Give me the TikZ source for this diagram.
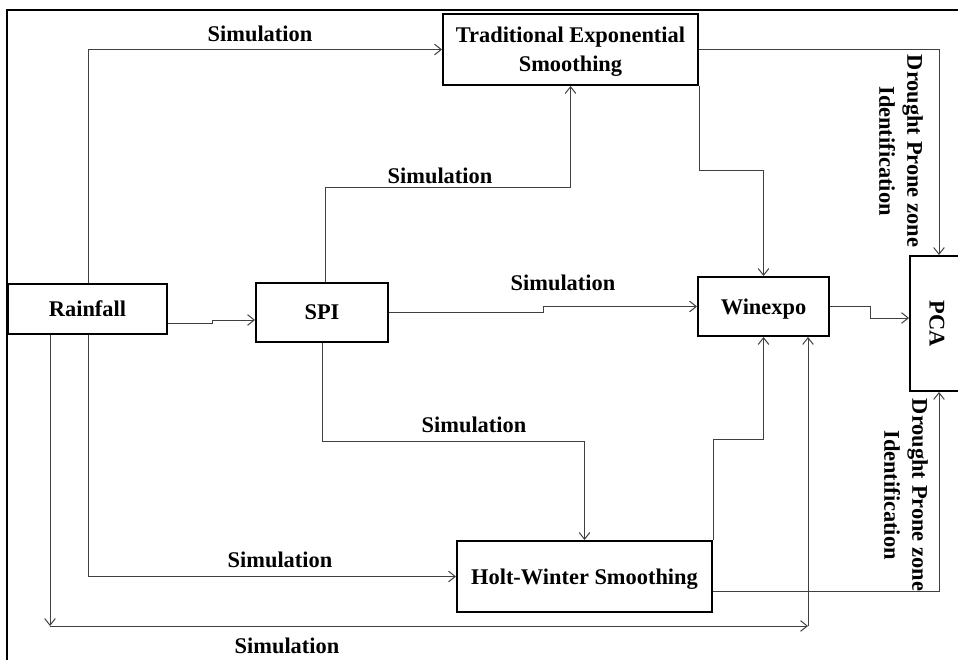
\documentclass[tikz,border=0pt]{standalone}
\usepackage{fontspec}
\setmainfont{Liberation Serif}
\usepackage{tikz}
\usetikzlibrary{
	arrows.meta,
	positioning,
	calc
}

\begin{document}
\begin{tikzpicture}[
				x=0.75pt, y=-0.75pt,
				box/.style={
					rectangle, draw, line width=1.5pt,
					inner sep=0pt, align=center, text depth=0pt,
					font=\fontsize{16.8}{21.5}\selectfont\bfseries
				},
				arrow/.style={-{Straight Barb[length=5pt,width=8pt]}, line width=0.75pt, black!75},
				lbl/.style={font=\fontsize{16.8}{21}\selectfont\bfseries, inner sep=0pt},
				sidelbl/.style={lbl, rotate=-90, align=center},
				]
				\useasboundingbox (0,0) rectangle (958,660);
				\draw[line width=1.5pt] (7,10) rectangle (966,668);
				
				%boxes
				\node (rain) at (87.5,309) [box, minimum width=119.25pt, minimum height=37.5pt] {Rainfall};
				\node (spi) at (322,312.5) [box, minimum width=99pt, minimum height=44.25pt] {SPI};
				\node (tes) at (570.5,49.5) [box, minimum width=191.25pt, minimum height=53.25pt] {Traditional Exponential\\Smoothing};
				\node (win) at (763.5,306.5) [box, minimum width=98.25pt, minimum height=44.25pt] {Winexpo};
				\node (hw) at (584.5,576.5) [box, minimum width=191.25pt, minimum height=53.25pt] {Holt-Winter Smoothing};
				\node (pca) at (937,323.5) [box, minimum width=40.5pt, minimum height=101.25pt] {};
				\node (pcatxt) at (pca.center) [lbl, rotate=-90] {PCA};
				
				%bend points
				\coordinate (c1) at (88,0);
				\coordinate (j1) at (212,323);
				\coordinate (j2) at (212,320);
				\coordinate (k1) at (325,188);
				\coordinate (j3) at (543,312);
				\coordinate (k2) at (0,171);
				\coordinate (k3) at (939,0);
				\coordinate (j4) at (870,318);
				\coordinate (k4) at (0,441);
				\coordinate (k5) at (50,626);
				\coordinate (k6) at (808,626);
				\coordinate (k7) at (0,439);
				\coordinate (k8) at (939,591);
				
				%rainfall
				\draw [arrow] (rain.north -| c1) |- (tes.west);
				\node (s1) at (260,34) [lbl] {Simulation};
				\draw [arrow] (rain.east |- j1) -- (j1) -- (j2) -- (spi.west |- j2);
				\draw [arrow] (rain.south -| c1) |- (hw.west);
				\node (s2) at (280,560) [lbl] {Simulation};
				\draw [arrow] (rain.south -| k5) -- (k5);
				\draw [arrow] (k5) -- (k6);
				\draw [arrow] (k6) -- (win.south -| k6);
				\node (s3) at (287,646) [lbl] {Simulation};
				
				%spi
				\draw [arrow] (spi.north -| k1) |- (k1 -| tes.south) -- (tes.south);
				\node (s4) at (440,176) [lbl] {Simulation};
				\draw [arrow] (spi.east) -- (spi.east -| j3) |- (win.west);
				\node (s5) at (563,283) [lbl] {Simulation};
				\draw [arrow] (spi.south) |- (k4 -| hw.north) -- (hw.north);
				\node (s6) at (474,425) [lbl] {Simulation};
				
				%smoothing to winexpo
				\draw [arrow] (tes.south east) |- (k2 -| win.north) -- (win.north);
				\draw [arrow] (hw.north east) |- (k7 -| win.south) -- (win.south);
				
				%to pca
				\draw [arrow] (tes.east) -| (k3 |- pca.north);
				\node (d1) at (901,151) [sidelbl] {Drought Prone zone\\Identification};
				\draw [arrow] (win.east) -| (j4) -- (pca.west |- j4);
				\draw [arrow] (hw.east |- k8) -| (k3 |- pca.south);
				\node (d2) at (906,495) [sidelbl] {Drought Prone zone\\Identification};
\end{tikzpicture}
\end{document}
